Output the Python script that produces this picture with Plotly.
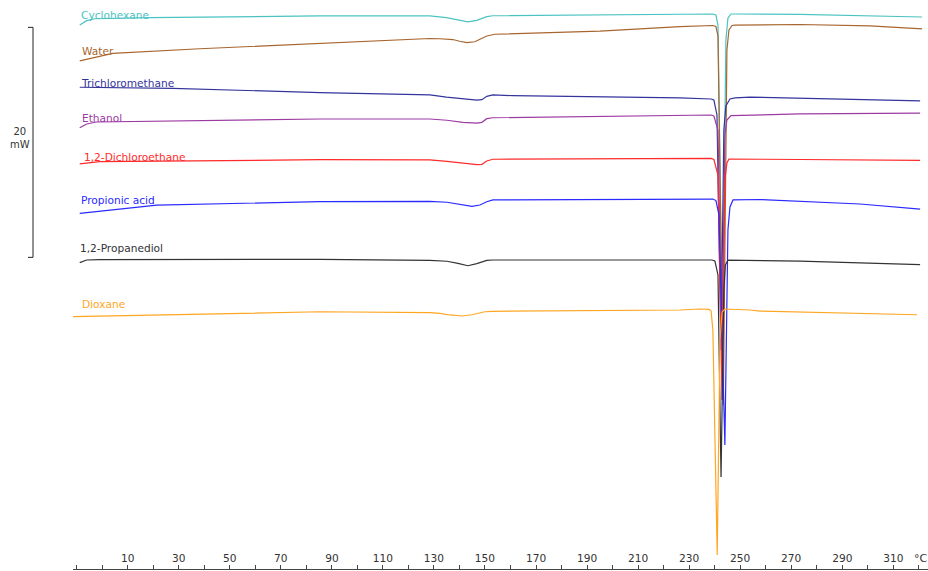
import plotly.graph_objects as go

# ---------------- data (temperature in °C, heat flow in mW, stacked display offsets included) -------------
names = ["Cyclohexane", "Water", "Trichloromethane", "Ethanol",
         "1,2-Dichloroethane", "Propionic acid", "1,2-Propanediol", "Dioxane"]
colors = ["#4cc3c3", "#a8652e", "#34349c", "#9c3aa2",
          "#ff2a2a", "#2a2aff", "#333333", "#ffa623"]

cyclohexane_T = [-8.8, -6.1, -2.9, 18.6, 85.3, 128.4, 134.9, 140.1, 143.3, 146.8, 150.7, 153.1, 195.0, 238.9,
                 239.3, 240.5, 241.3, 243.05, 244.4, 245.2, 246.4, 248.0, 273.4, 321.3]
cyclohexane_Q = [47.30, 47.68, 47.85, 47.94, 48.09, 48.09, 47.94, 47.68, 47.57, 47.71, 48.03, 48.11, 48.17, 48.26,
                 48.26, 48.17, 47.30, 20.78, 45.99, 47.91, 48.26, 48.26, 48.22, 48.0]

water_T = [-8.8, 4.1, 38.3, 85.3, 108.8, 128.4, 132.3, 137.4, 140.1, 142.9, 146.0, 150.7, 153.9, 195.0, 226.4,
           239.3, 240.5, 241.3, 243.4, 244.8, 245.6, 246.8, 248.0, 273.4, 300.9, 321.3]
water_Q = [44.18, 44.84, 45.24, 45.71, 45.91, 46.13, 46.11, 46.04, 45.89, 45.77, 45.85, 46.35, 46.50, 46.78, 47.17,
           47.26, 47.17, 46.35, 14.26, 45.13, 46.87, 47.26, 47.30, 47.35, 47.22, 46.96]

trichloromethane_T = [-8.8, 27.6, 85.3, 128.4, 134.9, 141.3, 146.8, 148.8, 150.7, 153.1, 160.9, 226.4, 238.6,
                      239.7, 240.9, 242.5, 243.6, 244.4, 246.0, 248.0, 253.8, 320.5]
trichloromethane_Q = [41.89, 41.80, 41.42, 41.22, 41.04, 40.87, 40.78, 40.81, 41.10, 41.22, 41.16, 40.96, 40.87,
                      40.78, 39.48, 19.04, 38.17, 40.26, 40.87, 40.96, 41.04, 40.70]

ethanol_T = [-8.8, -6.1, -2.2, 85.3, 128.4, 135.1, 141.3, 146.8, 148.8, 150.7, 153.1, 226.4, 238.6,
             239.7, 241.3, 242.9, 244.0, 244.8, 246.4, 273.4, 320.5]
ethanol_Q = [38.37, 38.70, 38.87, 39.13, 39.13, 39.02, 38.84, 38.78, 38.84, 39.16, 39.24, 39.48, 39.48,
             39.39, 38.17, 17.30, 37.74, 39.04, 39.43, 39.57, 39.65]

dichloroethane_T = [-8.8, -1.0, 85.3, 128.4, 135.1, 141.3, 146.8, 148.8, 150.7, 153.1, 226.4, 238.6,
                    239.7, 241.3, 242.9, 244.0, 244.8, 245.6, 273.4, 320.5]
dichloroethane_Q = [35.22, 35.42, 35.59, 35.57, 35.45, 35.28, 35.16, 35.19, 35.48, 35.63, 35.74, 35.71,
                    35.61, 34.26, 14.70, 33.83, 35.30, 35.65, 35.61, 35.54]

propionic_T = [-8.8, 21.4, 85.3, 128.4, 135.1, 140.1, 144.9, 148.0, 150.7, 153.1, 226.4, 239.3,
               240.5, 241.7, 244.0, 245.2, 246.0, 247.2, 257.8, 273.4, 296.9, 320.5]
propionic_Q = [30.93, 31.65, 31.94, 31.97, 31.89, 31.68, 31.54, 31.65, 31.94, 32.09, 32.20, 32.17,
               32.04, 30.78, 10.78, 29.48, 31.48, 32.09, 32.13, 32.0, 31.74, 31.30]

propanediol_T = [-8.8, -6.1, -1.0, 85.3, 128.4, 135.1, 139.4, 143.3, 146.8, 150.7, 153.1, 226.4, 238.9,
                 240.1, 241.3, 242.5, 243.6, 244.2, 245.2, 273.4, 320.5]
propanediol_Q = [26.64, 26.87, 26.90, 26.93, 26.84, 26.76, 26.58, 26.37, 26.55, 26.84, 26.87, 26.87, 26.87,
                 26.78, 25.57, 8.0, 24.26, 26.43, 26.85, 26.78, 26.46]

dioxane_T = [-11.6, 38.2, 85.3, 128.4, 132.3, 136.2, 140.9, 144.9, 149.95, 153.1, 226.4, 234.2, 237.8,
             238.6, 239.3, 241.0, 242.1, 242.9, 244.0, 253.8, 257.8, 319.3]
dioxane_Q = [21.94, 22.17, 22.37, 22.29, 22.23, 22.09, 22.0, 22.11, 22.37, 22.41, 22.52, 22.61, 22.58,
             22.43, 20.78, 1.22, 19.91, 22.35, 22.61, 22.52, 22.43, 22.11]

series_T = [cyclohexane_T, water_T, trichloromethane_T, ethanol_T,
            dichloroethane_T, propionic_T, propanediol_T, dioxane_T]
series_Q = [cyclohexane_Q, water_Q, trichloromethane_Q, ethanol_Q,
            dichloroethane_Q, propionic_Q, propanediol_Q, dioxane_Q]

# label anchor points (left edge temperature, heat-flow level of text centre)
label_T = [-9.2, -8.6, -9.2, -8.6, -8.0, -9.0, -9.4, -8.6]
label_Q = [48.17, 45.04, 42.26, 39.22, 35.83, 32.09, 27.91, 23.04]

tick_vals = list(range(-10, 330, 10))
tick_text = [str(v) if (v - 10) % 20 == 0 and v >= 10 else "" for v in tick_vals]

scale_bar_mW = 20
scale_bar_bottom = 27.1

FONT = "DejaVu Sans"

fig = go.Figure()
for T, Q, n, c in zip(series_T, series_Q, names, colors):
    fig.add_trace(go.Scatter(x=T, y=Q, mode="lines", name=n,
                             line=dict(color=c, width=1.2), hoverinfo="skip"))

for T, Q, n, c in zip(label_T, label_Q, names, colors):
    fig.add_annotation(x=T, y=Q, text=n, showarrow=False, xanchor="left", yanchor="middle",
                       font=dict(family=FONT, size=10.6, color=c))

L = 73
W = 928 - L
# scale bar
xb = (33 - L) / W
xt = (28 - L) / W
fig.add_shape(type="line", xref="paper", yref="y", x0=xb, x1=xb,
              y0=scale_bar_bottom, y1=scale_bar_bottom + scale_bar_mW, line=dict(color="#222", width=1))
for yy in (scale_bar_bottom, scale_bar_bottom + scale_bar_mW):
    fig.add_shape(type="line", xref="paper", yref="y", x0=xt, x1=xb, y0=yy, y1=yy,
                  line=dict(color="#222", width=1))
fig.add_annotation(xref="paper", yref="y", x=(20 - L) / W, y=scale_bar_bottom + scale_bar_mW / 2 + 0.4,
                   text=f"{scale_bar_mW}<br>mW", showarrow=False, xanchor="center", yanchor="middle",
                   font=dict(family=FONT, size=10, color="#333"))
fig.add_annotation(xref="paper", yref="paper", x=(921 - L) / W, y=(571 - 2 - 558) / 569,
                   text="°C", showarrow=False, xanchor="center", yanchor="middle",
                   font=dict(family=FONT, size=11, color="#333"))

fig.update_layout(
    width=928, height=571,
    margin=dict(l=L, r=0, t=0, b=2),
    paper_bgcolor="white", plot_bgcolor="white",
    showlegend=False,
    xaxis=dict(range=[-11.44, 323.6], showgrid=False, zeroline=False, showline=True,
               linecolor="#444", linewidth=1, ticks="inside", ticklen=4, tickcolor="#444",
               tickvals=tick_vals, ticktext=tick_text, ticklabelposition="inside",
               tickfont=dict(family=FONT, size=10.6, color="#333")),
    yaxis=dict(range=[0, 569 / 11.5], visible=False, showgrid=False, zeroline=False),
)

fig.write_html("out.html", config={"displayModeBar": False},
               post_script="document.body.style.margin='0';document.body.style.overflow='hidden';")
